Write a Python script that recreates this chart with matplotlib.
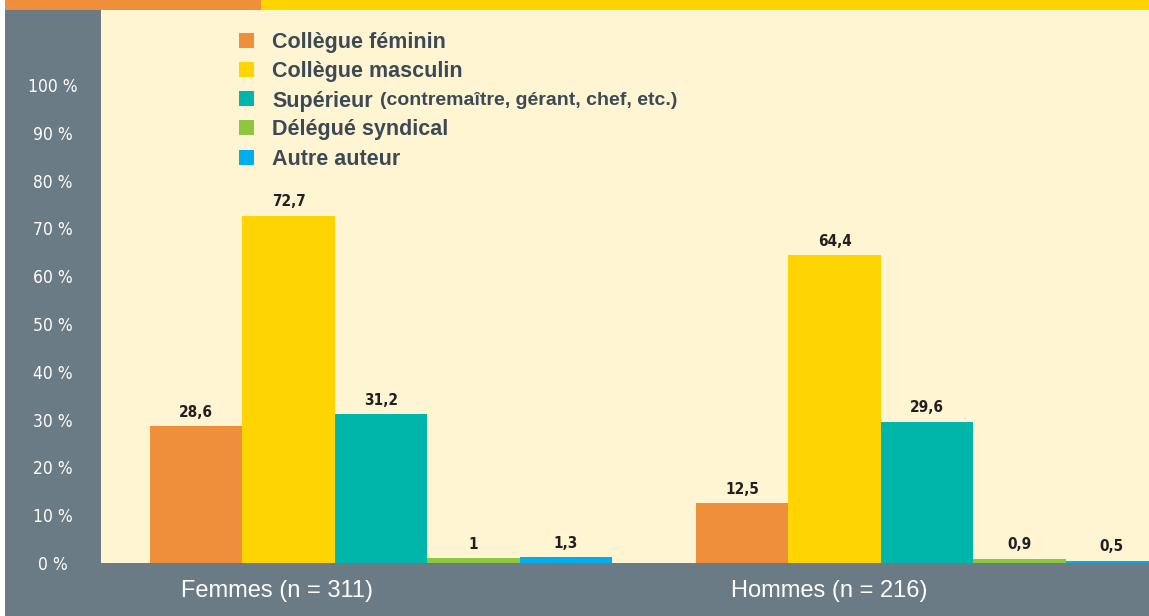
import matplotlib
matplotlib.use("Agg")
import matplotlib.pyplot as plt
from matplotlib import font_manager
from matplotlib.patches import Rectangle

# ---- data -------------------------------------------------------------
groups = ["Femmes (n = 311)", "Hommes (n = 216)"]
series = ["Collègue féminin", "Collègue masculin", "Supérieur",
          "Délégué syndical", "Autre auteur"]
series_note = ["", "", "(contremaître, gérant, chef, etc.)", "", ""]
femmes = [28.6, 72.7, 31.2, 1, 1.3]
hommes = [12.5, 64.4, 29.6, 0.9, 0.5]
yticks = list(range(0, 101, 10))

# ---- style ------------------------------------------------------------
COLORS = ["#EF8E3B", "#FFD400", "#00B5AA", "#8DC63F", "#00AEEF"]
GRAY = "#6B7B85"
CREAM = "#FFF5D3"
INK = "#3B4A54"
DARK = "#231F20"

names = {f.name for f in font_manager.fontManager.ttflist}
SANS = "Liberation Sans" if "Liberation Sans" in names else "DejaVu Sans"
plt.rcParams["font.family"] = SANS
# condensed face for the numbers
NUM = dict(family="DejaVu Sans", fontstretch="condensed")

W, H = 1149, 616
fig = plt.figure(figsize=(W / 100, H / 100), dpi=100, facecolor="white")


def fx(x):
    return x / W


def fy(y):
    return 1 - y / H


# background bands (figure pixel layout)
fig.patches.append(Rectangle((fx(5), 0), 1, 1, transform=fig.transFigure,
                             facecolor=GRAY, edgecolor="none", zorder=-2))
fig.patches.append(Rectangle((fx(5), fy(10)), fx(256), fy(0) - fy(10),
                             transform=fig.transFigure, facecolor=COLORS[0],
                             edgecolor="none", zorder=-1))
fig.patches.append(Rectangle((fx(261), fy(10)), 1, fy(0) - fy(10),
                             transform=fig.transFigure, facecolor=COLORS[1],
                             edgecolor="none", zorder=-1))

ax = fig.add_axes([fx(101), fy(563), 1 - fx(101), fy(10) - fy(563)])
ax.set_zorder(1)
ax.set_facecolor(CREAM)
for s in ax.spines.values():
    s.set_visible(False)

bw = 92.4 / 546
for i, name in enumerate(series):
    vals = [femmes[i], hommes[i]]
    xs = [g + (i - 2) * bw for g in range(len(groups))]
    bars = ax.bar(xs, vals, width=bw, color=COLORS[i], linewidth=0, zorder=2)
    for b, v in zip(bars, vals):
        ax.annotate(f"{v:g}".replace(".", ","),
                    (b.get_x() + b.get_width() / 2, v),
                    xytext=(0, 4.5), textcoords="offset points",
                    ha="center", va="bottom", fontsize=11,
                    fontweight="bold", color=DARK, **NUM)

ax.set_xlim(-0.5128, 1.4066)
ax.set_ylim(0, 115.7)
ax.set_xticks([])
ax.set_yticks(yticks)
ax.set_yticklabels([f"{t} %" for t in yticks], fontsize=12.5,
                   color="white", ha="center", **NUM)
ax.tick_params(axis="y", length=0, pad=34.5)

# group labels
for g, cx in zip(groups, [277, 829]):
    fig.text(fx(cx), fy(591), g, ha="center", va="center", fontsize=17,
             color="white", zorder=5)

# legend (manual)
fig.canvas.draw()
rend = fig.canvas.get_renderer()
row_y = [40, 69, 98.5, 127.5, 157]
for i, (name, note) in enumerate(zip(series, series_note)):
    y = row_y[i]
    fig.patches.append(Rectangle((fx(238.5), fy(y + 7.5)), fx(15), fy(0) - fy(15),
                                 transform=fig.transFigure, facecolor=COLORS[i],
                                 edgecolor="none", zorder=5))
    t = fig.text(fx(272), fy(y), name, ha="left", va="center_baseline",
                 fontsize=15.5, fontweight="bold", color=INK, zorder=5)
    if note:
        bb = t.get_window_extent(rend)
        fig.text(fx(bb.x1 + 7), fy(y), note, ha="left", va="center_baseline",
                 fontsize=14, fontweight="bold", color=INK, zorder=5)

fig.savefig("out.png", dpi=100, facecolor=fig.get_facecolor())
